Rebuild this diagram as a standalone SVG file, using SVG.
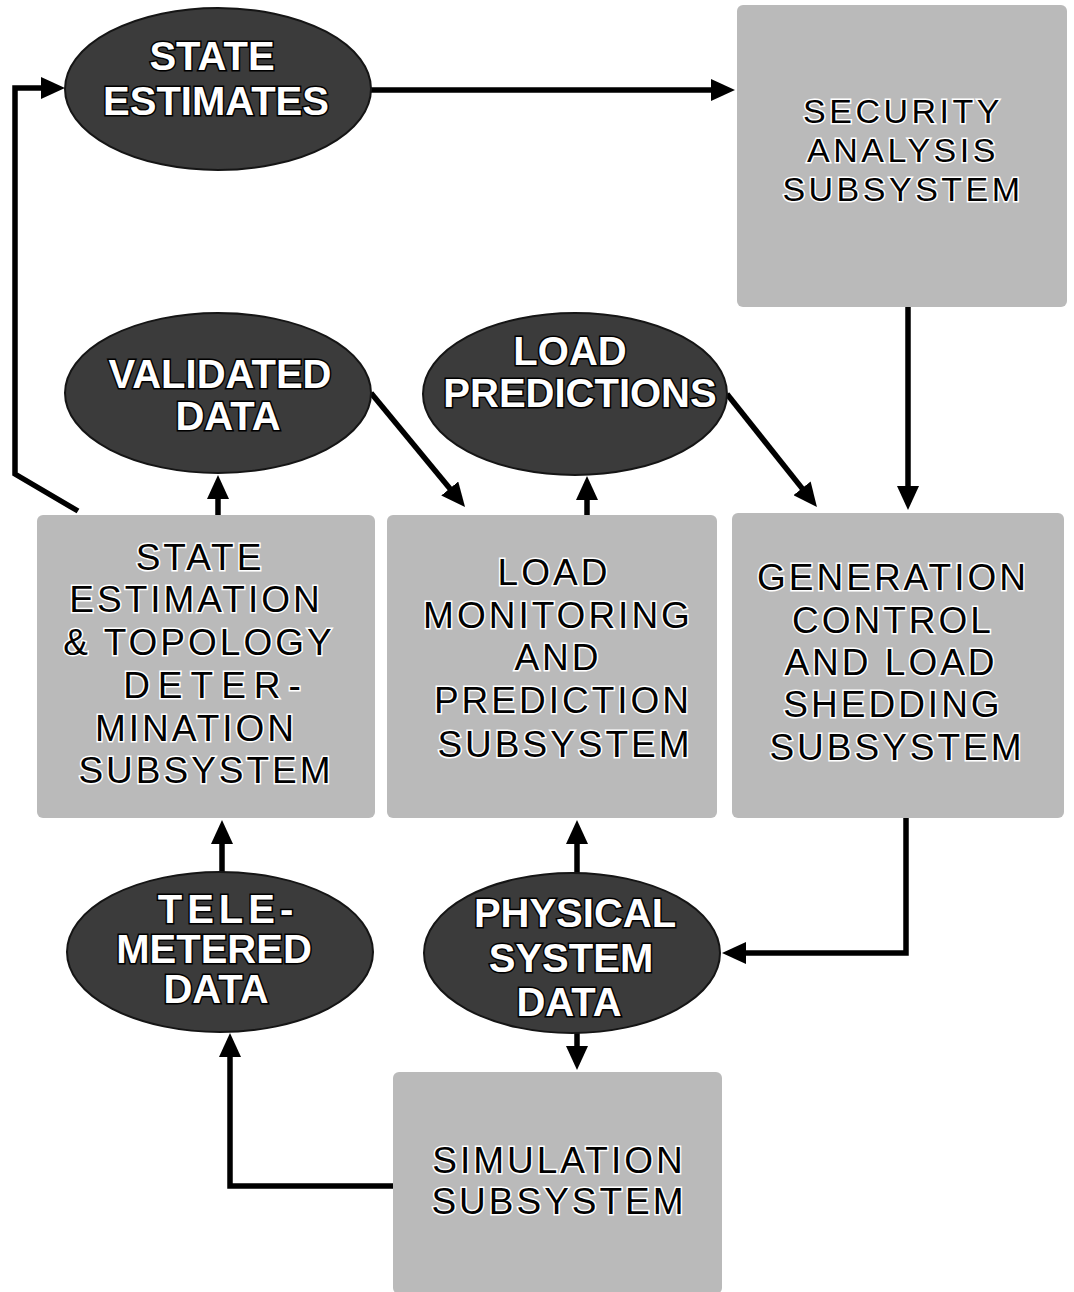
<svg xmlns="http://www.w3.org/2000/svg" width="1074" height="1292" viewBox="0 0 1074 1292">
<style>
.box{fill:#bababa;}
.ell{fill:#3b3b3b;stroke:#151515;stroke-width:2;}
.bt{font-family:"Liberation Sans",Arial,sans-serif;font-size:37px;fill:#000;stroke:#fff;stroke-width:3;paint-order:stroke;text-anchor:middle;letter-spacing:3px;}
.sm{font-size:34px;letter-spacing:3.5px;}
.et{font-family:"Liberation Sans",Arial,sans-serif;font-size:40px;font-weight:bold;fill:#fff;stroke:#000;stroke-width:3;paint-order:stroke;text-anchor:middle;}
.c{fill:none;stroke:#000;stroke-width:5.5;stroke-linejoin:miter;}
</style>
<defs>
<marker id="ah" markerUnits="userSpaceOnUse" markerWidth="24" markerHeight="22" viewBox="0 0 24 22" refX="4" refY="11" orient="auto">
<path d="M0,0 L24,11 L0,22 z" fill="#000"/>
</marker>
</defs>
<rect width="1074" height="1292" fill="#fff"/>

<g id="connectors">
<path class="c" d="M78,511 L15,474 L15,88 L45,88" marker-end="url(#ah)"/>
<path class="c" d="M371,90 H715" marker-end="url(#ah)"/>
<path class="c" d="M908,307 V490" marker-end="url(#ah)"/>
<path class="c" d="M371,393 L452.3,491.6" marker-end="url(#ah)"/>
<path class="c" d="M727,394 L804.5,491.4" marker-end="url(#ah)"/>
<path class="c" d="M218,515 V495" marker-end="url(#ah)"/>
<path class="c" d="M587,515 V496" marker-end="url(#ah)"/>
<path class="c" d="M906,818 V953 H742" marker-end="url(#ah)"/>
<path class="c" d="M577,873 V840" marker-end="url(#ah)"/>
<path class="c" d="M577,1033 V1050" marker-end="url(#ah)"/>
<path class="c" d="M393,1186 H230 V1053" marker-end="url(#ah)"/>
<path class="c" d="M222,872 V840" marker-end="url(#ah)"/>
</g>

<g id="state-estimates">
<ellipse class="ell" cx="218" cy="89" rx="153" ry="81"/>
<text class="et" x="212" y="70">STATE</text>
<text class="et" x="216" y="115">ESTIMATES</text>
</g>

<g id="security-analysis">
<rect class="box" x="737" y="5" width="330" height="302" rx="6"/>
<text class="bt sm" x="903" y="123">SECURITY</text>
<text class="bt sm" x="903" y="162">ANALYSIS</text>
<text class="bt sm" x="903" y="201">SUBSYSTEM</text>
</g>

<g id="validated-data">
<ellipse class="ell" cx="218" cy="393" rx="153" ry="80"/>
<text class="et" x="220" y="388">VALIDATED</text>
<text class="et" x="228" y="430">DATA</text>
</g>

<g id="load-predictions">
<ellipse class="ell" cx="575" cy="394" rx="152" ry="81"/>
<text class="et" x="570" y="365">LOAD</text>
<text class="et" x="580" y="407">PREDICTIONS</text>
</g>

<g id="state-estimation">
<rect class="box" x="37" y="515" width="338" height="303" rx="6"/>
<text class="bt" x="200" y="570">STATE</text>
<text class="bt" x="196" y="612">ESTIMATION</text>
<text class="bt" x="199" y="655">&amp; TOPOLOGY</text>
<text class="bt" x="216" y="698" style="letter-spacing:8px">DETER-</text>
<text class="bt" x="196" y="741">MINATION</text>
<text class="bt" x="206" y="783">SUBSYSTEM</text>
</g>

<g id="load-monitoring">
<rect class="box" x="387" y="515" width="330" height="303" rx="6"/>
<text class="bt" x="554" y="585">LOAD</text>
<text class="bt" x="558" y="628">MONITORING</text>
<text class="bt" x="558" y="670">AND</text>
<text class="bt" x="563" y="713">PREDICTION</text>
<text class="bt" x="565" y="757">SUBSYSTEM</text>
</g>

<g id="generation-control">
<rect class="box" x="732" y="513" width="332" height="305" rx="6"/>
<text class="bt" x="893" y="590">GENERATION</text>
<text class="bt" x="893" y="633">CONTROL</text>
<text class="bt" x="891" y="675">AND LOAD</text>
<text class="bt" x="893" y="717">SHEDDING</text>
<text class="bt" x="897" y="760">SUBSYSTEM</text>
</g>

<g id="telemetered-data">
<ellipse class="ell" cx="220" cy="952" rx="153" ry="80"/>
<text class="et" x="228" y="923" style="letter-spacing:5px">TELE-</text>
<text class="et" x="214" y="963">METERED</text>
<text class="et" x="216" y="1003">DATA</text>
</g>

<g id="physical-system-data">
<ellipse class="ell" cx="572" cy="953" rx="148" ry="80"/>
<text class="et" x="575" y="927">PHYSICAL</text>
<text class="et" x="571" y="972">SYSTEM</text>
<text class="et" x="569" y="1016">DATA</text>
</g>

<g id="simulation">
<rect class="box" x="393" y="1072" width="329" height="222" rx="6"/>
<text class="bt" x="559" y="1173">SIMULATION</text>
<text class="bt" x="559" y="1214">SUBSYSTEM</text>
</g>
</svg>
